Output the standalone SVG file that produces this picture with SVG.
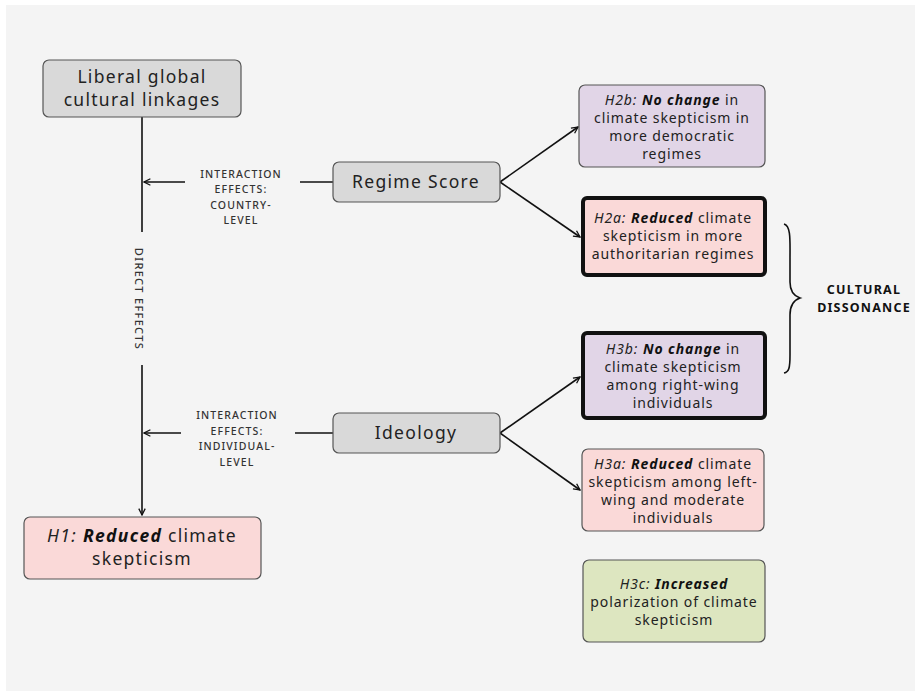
<svg xmlns="http://www.w3.org/2000/svg" width="921" height="695" viewBox="0 0 921 695">
<defs>
<marker id="arr" viewBox="0 0 10 10" refX="9" refY="5" markerWidth="8" markerHeight="8" markerUnits="userSpaceOnUse" orient="auto">
<path d="M1,1 L9,5 L1,9" fill="none" stroke="#111" stroke-width="1.6"/>
</marker>
<style>
.node{stroke:#555;stroke-width:1.2}
.thick{stroke:#111;stroke-width:4}
.grey{fill:#d9d9d9}
.lav{fill:#e1d5e7}
.pink{fill:#fad9d8}
.green{fill:#dde6c0}
text{font-family:"Noto Sans","Open Sans",sans-serif;fill:#222;text-anchor:middle}
.big{font-size:17.5px;letter-spacing:1.3px}
.hyp{font-size:14px;letter-spacing:0.9px}
.lbl{font-size:10.5px;letter-spacing:1.1px;fill:#333;font-weight:500}
.b{font-weight:bold;font-style:italic;fill:#111}
.i{font-style:italic}
.conn line,.conn path{stroke:#111;stroke-width:1.6;fill:none}
</style>
</defs>
<rect x="0" y="0" width="921" height="695" fill="#ffffff"/>
<rect x="6" y="5" width="909" height="686" fill="#f4f4f4"/>

<g id="connectors" class="conn">
<line x1="142" y1="117" x2="142" y2="232"/>
<line x1="142" y1="365" x2="142" y2="515" marker-end="url(#arr)"/>
<line x1="185" y1="182" x2="144" y2="182" marker-end="url(#arr)"/>
<line x1="300" y1="182" x2="333" y2="182"/>
<line x1="181" y1="433" x2="144" y2="433" marker-end="url(#arr)"/>
<line x1="295" y1="433" x2="333" y2="433"/>
<line x1="500" y1="182" x2="578" y2="127" marker-end="url(#arr)"/>
<line x1="500" y1="182" x2="580" y2="237" marker-end="url(#arr)"/>
<line x1="500" y1="433" x2="580" y2="377" marker-end="url(#arr)"/>
<line x1="500" y1="433" x2="580" y2="490" marker-end="url(#arr)"/>
<path d="M784,224 C791,226 790,240 790,258 L790,282 C790,292 794,296 800,298 C794,300 790,305 790,315 L790,355 C790,368 789,372 784,373" stroke-width="2.6"/>
</g>

<g id="direct-label">
<text class="lbl" transform="translate(138,299) rotate(90)" dominant-baseline="middle" style="font-size:11px;letter-spacing:1.3px">DIRECT EFFECTS</text>
</g>
<g id="country-label">
<text class="lbl" x="241" y="178">INTERACTION</text>
<text class="lbl" x="241" y="193">EFFECTS:</text>
<text class="lbl" x="241" y="209">COUNTRY-</text>
<text class="lbl" x="241" y="224">LEVEL</text>
</g>
<g id="individual-label">
<text class="lbl" x="237" y="419">INTERACTION</text>
<text class="lbl" x="237" y="435">EFFECTS:</text>
<text class="lbl" x="237" y="450">INDIVIDUAL-</text>
<text class="lbl" x="237" y="466">LEVEL</text>
</g>

<g id="liberal">
<rect class="node grey" x="43" y="60" width="198" height="57" rx="6"/>
<text class="big" x="142" y="83">Liberal global</text>
<text class="big" x="142" y="106">cultural linkages</text>
</g>
<g id="regime">
<rect class="node grey" x="333" y="162" width="167" height="40" rx="6"/>
<text class="big" x="416" y="188">Regime Score</text>
</g>
<g id="ideology">
<rect class="node grey" x="333" y="413" width="167" height="40" rx="6"/>
<text class="big" x="416" y="439">Ideology</text>
</g>
<g id="h1">
<rect class="node pink" x="24" y="517" width="237" height="62" rx="6"/>
<text class="big" x="142" y="542"><tspan class="i">H1: </tspan><tspan class="b">Reduced</tspan> climate</text>
<text class="big" x="142" y="565">skepticism</text>
</g>
<g id="h2b">
<rect class="node lav" x="579" y="85" width="186" height="82" rx="6"/>
<text class="hyp" x="672" y="105"><tspan class="i">H2b: </tspan><tspan class="b">No change</tspan> in</text>
<text class="hyp" x="672" y="123">climate skepticism in</text>
<text class="hyp" x="672" y="141">more democratic</text>
<text class="hyp" x="672" y="159">regimes</text>
</g>
<g id="h2a">
<rect class="thick pink" x="583" y="198" width="182" height="77" rx="4"/>
<text class="hyp" x="673" y="223"><tspan class="i">H2a: </tspan><tspan class="b">Reduced</tspan> climate</text>
<text class="hyp" x="673" y="241">skepticism in more</text>
<text class="hyp" x="673" y="259">authoritarian regimes</text>
</g>
<g id="cultural">
<text x="864" y="294" style="font-size:12.5px;font-weight:bold;letter-spacing:1.2px;fill:#111">CULTURAL</text>
<text x="864" y="312" style="font-size:12.5px;font-weight:bold;letter-spacing:1.2px;fill:#111">DISSONANCE</text>
</g>
<g id="h3b">
<rect class="thick lav" x="583" y="333" width="182" height="85" rx="4"/>
<text class="hyp" x="673" y="354"><tspan class="i">H3b: </tspan><tspan class="b">No change</tspan> in</text>
<text class="hyp" x="673" y="372">climate skepticism</text>
<text class="hyp" x="673" y="390">among right-wing</text>
<text class="hyp" x="673" y="408">individuals</text>
</g>
<g id="h3a">
<rect class="node pink" x="582" y="449" width="182" height="82" rx="6"/>
<text class="hyp" x="673" y="469"><tspan class="i">H3a: </tspan><tspan class="b">Reduced</tspan> climate</text>
<text class="hyp" x="673" y="487">skepticism among left-</text>
<text class="hyp" x="673" y="505">wing and moderate</text>
<text class="hyp" x="673" y="523">individuals</text>
</g>
<g id="h3c">
<rect class="node green" x="583" y="560" width="182" height="82" rx="6"/>
<text class="hyp" x="674" y="589"><tspan class="i">H3c: </tspan><tspan class="b">Increased</tspan></text>
<text class="hyp" x="674" y="607">polarization of climate</text>
<text class="hyp" x="674" y="625">skepticism</text>
</g>
</svg>
